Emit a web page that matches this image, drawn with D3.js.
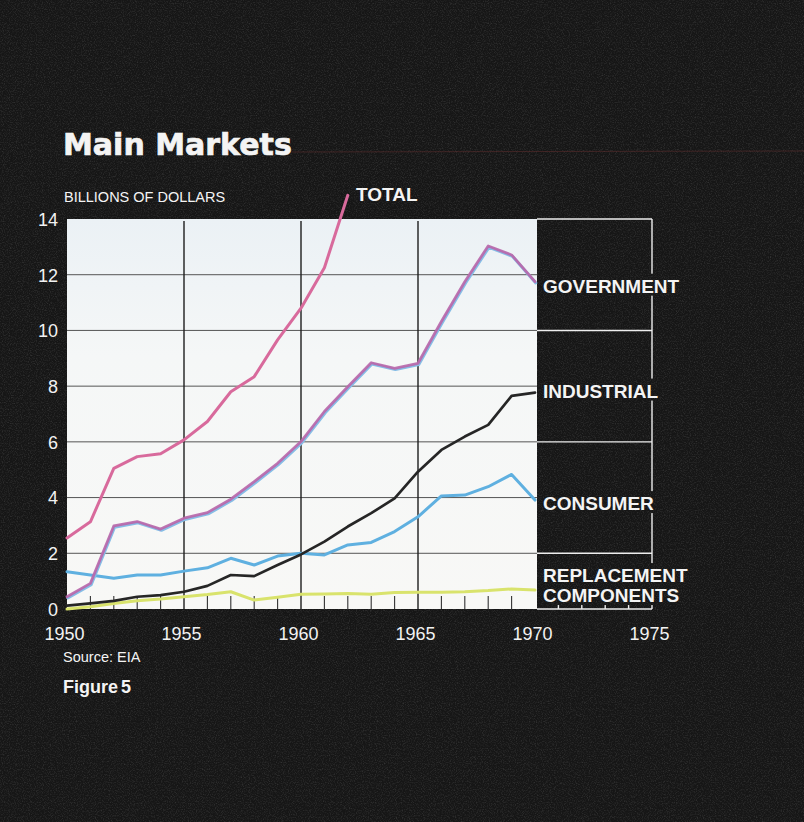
<!DOCTYPE html>
<html>
<head>
<meta charset="utf-8">
<script src="https://cdn.jsdelivr.net/npm/d3@7"></script>
<style>
  html, body { margin: 0; padding: 0; background: #181818; }
  svg { display: block; }
</style>
</head>
<body>
<svg id="chart" width="804" height="822"></svg>
<script>
// data (billions of dollars)
var years = [1950, 1951, 1952, 1953, 1954, 1955, 1956, 1957, 1958, 1959, 1960,
             1961, 1962, 1963, 1964, 1965, 1966, 1967, 1968, 1969, 1970];
var totalYears = [1950, 1951, 1952, 1953, 1954, 1955, 1956, 1957, 1958, 1959, 1960, 1961, 1962];
var total = [2.55, 3.13, 5.05, 5.47, 5.57, 6.07, 6.73, 7.8, 8.34, 9.66, 10.8, 12.25, 14.85];
var government = [0.44, 0.92, 2.98, 3.14, 2.87, 3.26, 3.46, 3.94, 4.57, 5.23, 6.01,
                  7.09, 7.98, 8.84, 8.64, 8.82, 10.32, 11.75, 13.03, 12.71, 11.75];
var industrial = [0.12, 0.2, 0.29, 0.44, 0.5, 0.62, 0.83, 1.22, 1.18, 1.58, 1.96,
                  2.42, 2.96, 3.44, 3.97, 4.93, 5.71, 6.19, 6.61, 7.65, 7.77];
var consumer = [1.34, 1.22, 1.1, 1.22, 1.22, 1.36, 1.48, 1.82, 1.58, 1.9, 2.0,
                1.94, 2.3, 2.39, 2.78, 3.31, 4.06, 4.09, 4.39, 4.83, 3.91];
var replacement = [0.0, 0.08, 0.2, 0.3, 0.36, 0.44, 0.52, 0.62, 0.32, 0.42, 0.53,
                   0.54, 0.56, 0.53, 0.59, 0.6, 0.6, 0.62, 0.66, 0.72, 0.68];
var yTicks = [0, 2, 4, 6, 8, 10, 12, 14];
var xTicks = [1950, 1955, 1960, 1965, 1970, 1975];

var bg = "#161616";
var svg = d3.select("#chart");

var x = d3.scaleLinear().domain([1950, 1975]).range([67, 652]);
var y = d3.scaleLinear().domain([0, 14]).range([609, 219]);

// grainy dark background
var defs = svg.append("defs");
var grain = defs.append("filter").attr("id", "grain")
  .attr("x", 0).attr("y", 0).attr("width", "100%").attr("height", "100%");
grain.append("feTurbulence").attr("type", "fractalNoise")
  .attr("baseFrequency", 0.85).attr("numOctaves", 2).attr("seed", 7);
grain.append("feColorMatrix").attr("type", "matrix")
  .attr("values", "0 0 0 0 0.8  0 0 0 0 0.8  0 0 0 0 0.8  1.4 0 0 0 -0.62");

svg.append("rect").attr("width", 804).attr("height", 822).attr("fill", bg);
svg.append("rect").attr("width", 804).attr("height", 822)
  .attr("filter", "url(#grain)").attr("opacity", 0.22);

// faint printing line behind the title
svg.append("line").attr("x1", 292).attr("x2", 804).attr("y1", 152).attr("y2", 151)
  .attr("stroke", "#5a2c2c").attr("stroke-width", 1).attr("opacity", 0.6);

// white plot panel 1950-1970
var grad = defs.append("linearGradient").attr("id", "panel")
  .attr("x1", 0).attr("y1", 0).attr("x2", 0).attr("y2", 1);
grad.append("stop").attr("offset", "0%").attr("stop-color", "#ebf1f5");
grad.append("stop").attr("offset", "35%").attr("stop-color", "#f5f7f7");
grad.append("stop").attr("offset", "100%").attr("stop-color", "#f8f8f6");

svg.append("rect")
  .attr("x", x(1950)).attr("y", y(14))
  .attr("width", x(1970) - x(1950) + 2).attr("height", y(0) - y(14))
  .attr("fill", "url(#panel)");

// horizontal grid inside the panel
svg.append("g").selectAll("line")
  .data(yTicks.filter(function (d) { return d > 0 && d < 14; }))
  .enter().append("line")
  .attr("x1", x(1950)).attr("x2", x(1970) + 2)
  .attr("y1", function (d) { return y(d); }).attr("y2", function (d) { return y(d); })
  .attr("stroke", "#555").attr("stroke-width", 1);

// vertical lines at 1955, 1960, 1965
svg.append("g").selectAll("line")
  .data([1955, 1960, 1965])
  .enter().append("line")
  .attr("x1", function (d) { return x(d); }).attr("x2", function (d) { return x(d); })
  .attr("y1", y(14) + 2).attr("y2", y(0))
  .attr("stroke", "#1e1e1e").attr("stroke-width", 1.4);

// yearly minor ticks inside the panel
svg.append("g").selectAll("line")
  .data(years.filter(function (d) { return d % 5 != 0; }))
  .enter().append("line")
  .attr("x1", function (d) { return x(d); }).attr("x2", function (d) { return x(d); })
  .attr("y1", y(0)).attr("y2", y(0) - 13)
  .attr("stroke", "#333").attr("stroke-width", 1.1);

// series lines
var line = d3.line()
  .x(function (d) { return x(d[0]); })
  .y(function (d) { return y(d[1]); });

function pairs(xs, vs) {
  return vs.map(function (v, i) { return [xs[i], v]; });
}

var lines = svg.append("g").attr("fill", "none")
  .attr("stroke-linejoin", "round").attr("stroke-linecap", "round");

lines.append("path").attr("d", line(pairs(years, replacement)))
  .attr("stroke", "#d9e36c").attr("stroke-width", 3);
lines.append("path").attr("d", line(pairs(years, consumer)))
  .attr("stroke", "#5fb0e0").attr("stroke-width", 3);
lines.append("path").attr("d", line(pairs(years, industrial)))
  .attr("stroke", "#262626").attr("stroke-width", 2.7);
// government is printed pink over blue, slightly out of register
lines.append("path").attr("d", line(pairs(years, government)))
  .attr("stroke", "#86bde6").attr("stroke-width", 3)
  .attr("transform", "translate(0.8,1.3)");
lines.append("path").attr("d", line(pairs(years, government)))
  .attr("stroke", "#b967aa").attr("stroke-width", 2.8).attr("opacity", 0.92);
lines.append("path").attr("d", line(pairs(totalYears, total)))
  .attr("stroke", "#d86a9c").attr("stroke-width", 3);

// labels on the dark side
var lab = svg.append("g").attr("fill", "#f4f4f4")
  .style("font-family", "'Liberation Sans', Arial, sans-serif")
  .style("font-weight", "bold").style("font-size", "19px");

var seriesLabels = [
  { text: ["GOVERNMENT"], last: government[government.length - 1], dy: [11] },
  { text: ["INDUSTRIAL"], last: industrial[industrial.length - 1], dy: [5] },
  { text: ["CONSUMER"], last: consumer[consumer.length - 1], dy: [10] },
  { text: ["REPLACEMENT", "COMPONENTS"], last: replacement[replacement.length - 1], dy: [-8, 12] }
];

var boxes = [];
seriesLabels.forEach(function (s) {
  var g = lab.append("g");
  s.text.forEach(function (t, i) {
    g.append("text").attr("x", x(1970) + 8).attr("y", y(s.last) + s.dy[i]).text(t);
  });
  boxes.push(g.node().getBBox());
});

// right hand frame, broken behind the labels
var mask = defs.append("mask").attr("id", "gaps")
  .attr("maskUnits", "userSpaceOnUse")
  .attr("x", 0).attr("y", 0).attr("width", 804).attr("height", 822);
mask.append("rect").attr("width", 804).attr("height", 822).attr("fill", "white");
boxes.forEach(function (b) {
  mask.append("rect").attr("x", x(1970)).attr("y", b.y - 2)
    .attr("width", b.x + b.width + 6 - x(1970)).attr("height", b.height + 1).attr("fill", "black");
});

var frame = svg.insert("g", function () { return lab.node(); })
  .attr("mask", "url(#gaps)").attr("stroke", "#eeeeee").attr("stroke-width", 1.4);
frame.selectAll("line.h").data(yTicks).enter().append("line")
  .attr("class", "h")
  .attr("x1", x(1970) + 2).attr("x2", x(1975))
  .attr("y1", function (d) { return y(d); }).attr("y2", function (d) { return y(d); });
frame.append("line").attr("x1", x(1975)).attr("x2", x(1975))
  .attr("y1", y(14)).attr("y2", y(0));
frame.selectAll("line.t").data([1971, 1972, 1973, 1974]).enter().append("line")
  .attr("class", "t")
  .attr("x1", function (d) { return x(d); }).attr("x2", function (d) { return x(d); })
  .attr("y1", y(0)).attr("y2", y(0) - 5);

// axes (labels only)
var yAxis = svg.append("g").attr("transform", "translate(" + x(1950) + ",0)")
  .call(d3.axisLeft(y).tickValues(yTicks).tickSize(0).tickPadding(9));
var xAxis = svg.append("g").attr("transform", "translate(0," + y(0) + ")")
  .call(d3.axisBottom(x).tickValues(xTicks).tickSize(0).tickPadding(18)
    .tickFormat(d3.format("d")));
[yAxis, xAxis].forEach(function (a) {
  a.select(".domain").remove();
  a.selectAll("text").attr("fill", "#f2f2f2")
    .style("font-family", "'Liberation Sans', Arial, sans-serif")
    .style("font-size", "18px");
});
xAxis.selectAll("text").attr("dx", -3);
yAxis.selectAll("text").attr("dy", "0.35em");

// titles and notes
var txt = svg.append("g").attr("fill", "#f4f4f4")
  .style("font-family", "'Liberation Sans', Arial, sans-serif");
txt.append("text").attr("x", 63).attr("y", 155).text("Main Markets")
  .style("font-family", "'DejaVu Sans', sans-serif").style("font-weight", "bold")
  .style("font-size", "30px")
  .attr("stroke", "#f4f4f4").attr("stroke-width", 0.7);
txt.append("text").attr("x", 64).attr("y", 202).text("BILLIONS OF DOLLARS")
  .style("font-size", "14.5px");
txt.append("text").attr("x", 356).attr("y", 201).text("TOTAL")
  .style("font-weight", "bold").style("font-size", "19px");
txt.append("text").attr("x", 63).attr("y", 662).text("Source: EIA")
  .style("font-size", "14.5px");
txt.append("text").attr("x", 63).attr("y", 693).text("Figure 5")
  .style("font-weight", "bold").style("font-size", "18px").attr("word-spacing", -2);
</script>
</body>
</html>
